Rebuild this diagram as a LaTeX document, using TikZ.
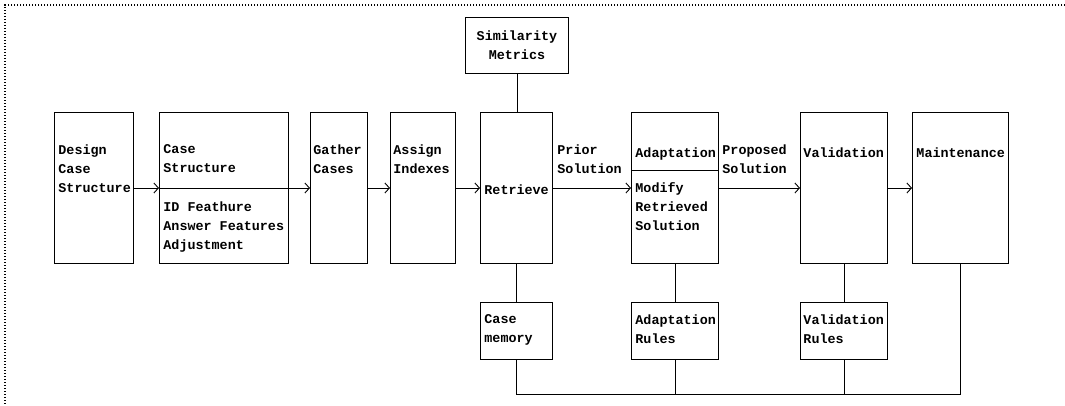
\documentclass[tikz,border=0pt]{standalone}
\usepackage{fontspec}
\setmonofont{Liberation Mono}
\usetikzlibrary{arrows.meta}

\begin{document}
\begin{tikzpicture}[x=1pt,y=-1pt,>={Straight Barb[length=4.5pt,width=10pt]},line width=0.9pt,
  box/.style={draw,rectangle,inner sep=0pt,anchor=north west,minimum height=151pt},
  txt/.style={anchor=north west,inner sep=0pt,align=left,
    font=\ttfamily\bfseries\fontsize{13.4}{19}\selectfont,execute at begin node=\strut}]
  \useasboundingbox (0,0) rectangle (1065,405);
  \draw[line width=1.2pt,dash pattern=on 1.2pt off 1.8pt] (1065,5)--(5,5)--(5,405);
  % main row
  \node[box,minimum width=79pt]  (design)   at (54,112) {};
  \node[box,minimum width=129pt] (cstruct)  at (159,112) {};
  \node[box,minimum width=57pt]  (gather)   at (310,112) {};
  \node[box,minimum width=65pt]  (assign)   at (390,112) {};
  \node[box,minimum width=72pt]  (retrieve) at (480,112) {};
  \node[box,minimum width=87pt]  (adapt)    at (631,112) {};
  \node[box,minimum width=87pt]  (valid)    at (800,112) {};
  \node[box,minimum width=96pt]  (maint)    at (912,112) {};
  % knowledge boxes
  \node[box,minimum width=103pt,minimum height=56pt] (simil)   at (465,17) {};
  \node[box,minimum width=72pt,minimum height=57pt]  (casemem) at (480,302) {};
  \node[box,minimum width=87pt,minimum height=57pt]  (adrules) at (631,302) {};
  \node[box,minimum width=87pt,minimum height=57pt]  (varules) at (800,302) {};
  \coordinate (ay) at (0,188);
  \coordinate (dy) at (0,170);
  \coordinate (bl) at (0,394);
  % flow
  \draw[->] (design.east |- ay)--(cstruct.west |- ay);
  \draw (cstruct.west |- ay)--(cstruct.east |- ay);
  \draw[->] (cstruct.east |- ay)--(gather.west |- ay);
  \draw[->] (gather.east |- ay)--(assign.west |- ay);
  \draw[->] (assign.east |- ay)--(retrieve.west |- ay);
  \draw[->] (retrieve.east |- ay)--(adapt.west |- ay);
  \draw (adapt.west |- dy)--(adapt.east |- dy);
  \draw[->] (adapt.east |- ay)--(valid.west |- ay);
  \draw[->] (valid.east |- ay)--(maint.west |- ay);
  % links
  \draw (simil.south)--(simil.south |- retrieve.north);
  \draw (retrieve.south)--(casemem.north);
  \draw (adapt.south)--(adrules.north);
  \draw (valid.south)--(varules.north);
  \draw (casemem.south)--(casemem.south |- bl)--(maint.south |- bl)--(maint.south);
  \draw (adrules.south)--(adrules.south |- bl);
  \draw (varules.south)--(varules.south |- bl);
  % texts
  \node[txt] (t-design) at (58,144) {Design\\Case\\Structure};
  \node[txt] (t-cs) at (163,144) {Case\\Structure};
  \node[txt] (t-cs2) at (163,201) {ID Feathure\\Answer Features\\Adjustment};
  \node[txt] (t-gather) at (313,144) {Gather\\Cases};
  \node[txt] (t-assign) at (393,144) {Assign\\Indexes};
  \node[txt] (t-retr) at (484,181) {Retrieve};
  \node[txt] (t-prior) at (557,144) {Prior\\Solution};
  \node[txt] (t-adapt) at (635,144) {Adaptation};
  \node[txt] (t-mod) at (635,182) {Modify\\Retrieved\\Solution};
  \node[txt] (t-prop) at (722,144) {Proposed\\Solution};
  \node[txt] (t-valid) at (803,144) {Validation};
  \node[txt] (t-maint) at (916,144) {Maintenance};
  \node[txt,anchor=north,align=center] (t-simil) at (simil.north |- 0,30) {Similarity\\Metrics};
  \node[txt] (t-mem) at (484,314) {Case\\memory};
  \node[txt] (t-adr) at (635,314) {Adaptation\\Rules};
  \node[txt] (t-var) at (803,314) {Validation\\Rules};
\end{tikzpicture}
\end{document}
